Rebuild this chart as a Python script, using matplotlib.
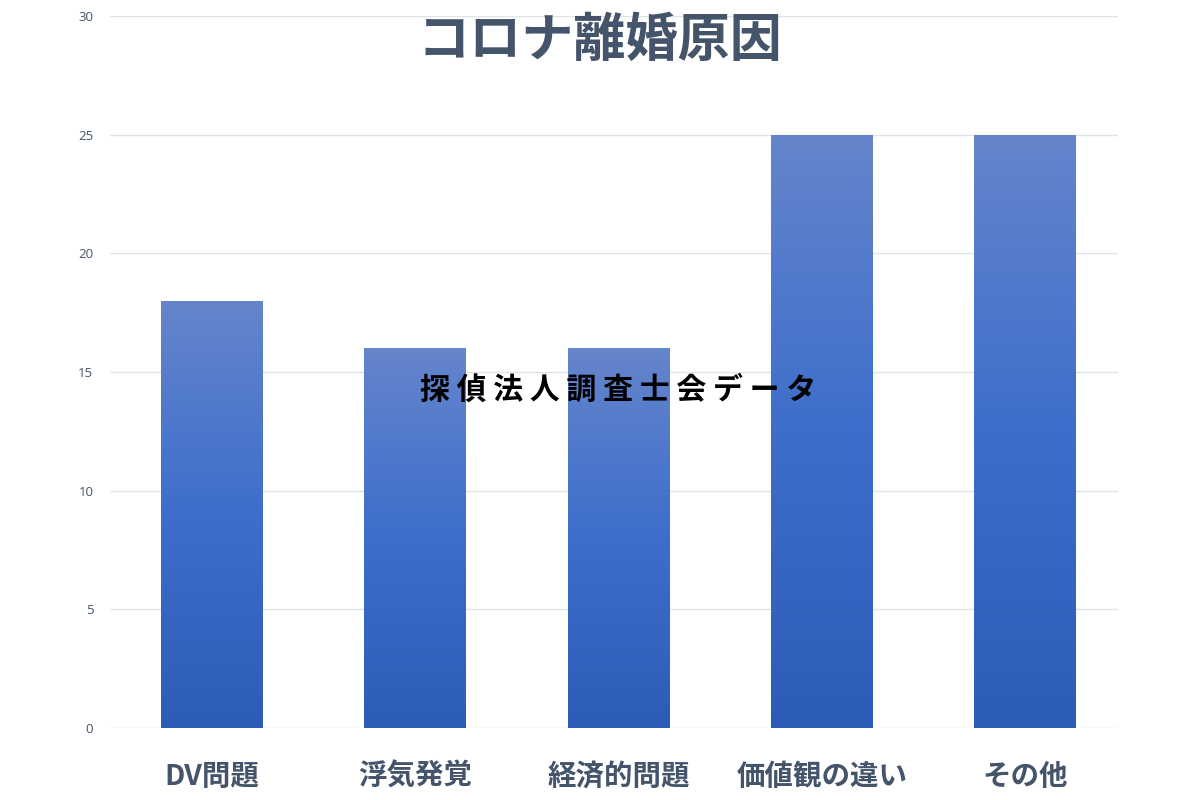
import numpy as np
import matplotlib
matplotlib.use("Agg")
import matplotlib.pyplot as plt
from matplotlib.colors import LinearSegmentedColormap

plt.rcParams['font.family'] = ['Noto Sans CJK JP', 'DejaVu Sans']

categories = ["DV問題", "浮気発覚", "経済的問題", "価値観の違い", "その他"]
values = [18, 16, 16, 25, 25]
yticks = [0, 5, 10, 15, 20, 25, 30]
title = "コロナ離婚原因"
watermark = "探偵法人調査士会データ"

fig = plt.figure(figsize=(12, 8), dpi=100)
ax = fig.add_axes([110/1200, 72/800, 1008/1200, 712/800])

cmap = LinearSegmentedColormap.from_list("g", ["#2d5cb8", "#3d6ecb", "#6585cc"])
grad = np.linspace(0, 1, 256).reshape(-1, 1)

x = np.arange(len(categories))
bars = ax.bar(x, values, width=0.5, color="none", edgecolor="none", zorder=2)
for b in bars:
    x0, w, h = b.get_x(), b.get_width(), b.get_height()
    im = ax.imshow(grad, cmap=cmap, aspect="auto", origin="lower",
                   extent=[x0, x0 + w, 0, h], zorder=2)
    im.set_clip_path(b)

ax.set_xlim(-0.5, 4.457)
ax.set_ylim(0, 30)
ax.set_yticks(yticks)
ax.set_yticklabels([str(t) for t in yticks], fontsize=9.5, color="#44546a",
                   family=['Open Sans', 'DejaVu Sans'])
ax.set_xticks(x)
ax.set_xticklabels(categories, fontsize=20.5, color="#44546a", fontweight="bold")
ax.tick_params(axis="both", length=0)
ax.tick_params(axis="y", pad=12)
ax.tick_params(axis="x", pad=25)
ax.grid(axis="y", color="#dfe3ea", linewidth=1, zorder=0)
ax.set_axisbelow(True)
for s in ax.spines.values():
    s.set_visible(False)

fig.text(0.5, 1 - 40/800, title, ha="center", va="center", fontsize=37.5,
         fontweight="bold", color="#44546a")
spaced = " ".join(list(watermark))
ax.text(2, 14.25, spaced, ha="center", va="center", fontsize=21.5,
        fontweight="bold", color="black", zorder=5)

fig.savefig("out.png", dpi=100)
